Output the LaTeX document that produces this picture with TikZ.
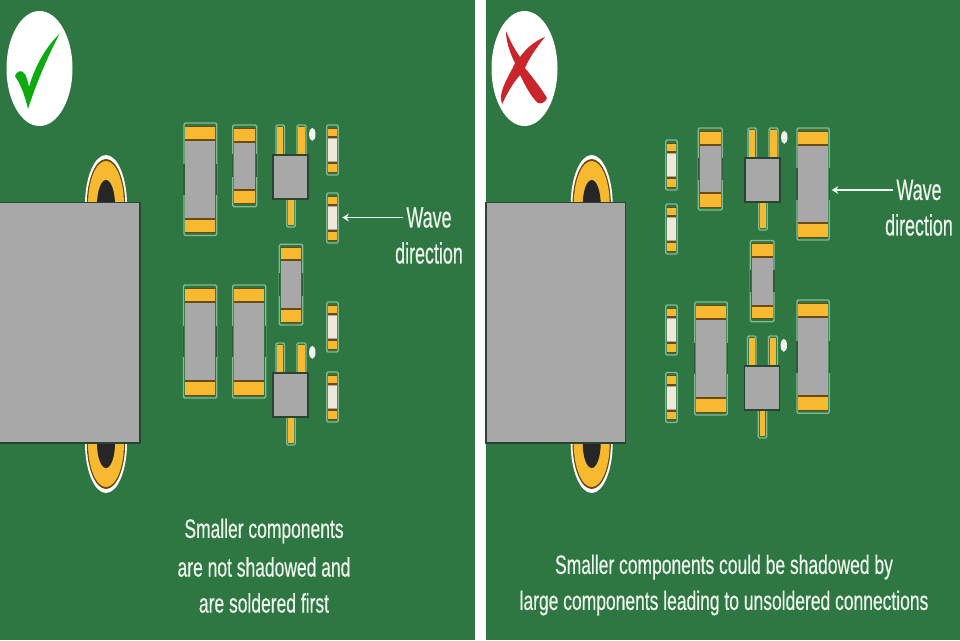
\documentclass[tikz,border=0pt]{standalone}
\usepackage{fontspec}
\setmainfont{Liberation Sans}
\newfontfamily\labelfont[FakeBold=0.6]{Liberation Sans}
\usetikzlibrary{arrows.meta}
\definecolor{board}{HTML}{2E7743}
\definecolor{halo}{HTML}{86BA94}
\definecolor{gold}{HTML}{F6B92F}
\definecolor{brownline}{HTML}{6B4A14}
\definecolor{metal}{HTML}{A9A8A9}
\definecolor{cream}{HTML}{EFE9DC}
\definecolor{darkedge}{HTML}{2A4434}
\definecolor{sidedark}{HTML}{2F5A3E}
\definecolor{labelwhite}{HTML}{EDF5EC}
\definecolor{crossred}{HTML}{C9252B}
\definecolor{tickgreen}{HTML}{0DAA12}
\tikzset{
	haloline/.style = {draw = halo, line width = 1pt, fill = board, rounded corners = 1},
	padfill/.style = {fill = gold},
	padline/.style = {draw = brownline, line width = 1.5pt},
	padthin/.style = {draw = brownline, line width = 0.6pt},
	sideline/.style = {draw = sidedark, line width = 1pt},
	sotbody/.style = {fill = metal, draw = darkedge, line width = 1pt},
	smalltext/.style = {text = labelwhite, font = \labelfont\fontsize{20pt}{20pt}\selectfont, xscale = 0.655, transform shape, inner sep = 0pt},
	wavetext/.style = {smalltext, xscale = 0.61/0.655, font = \labelfont\fontsize{22pt}{22pt}\selectfont},
	wavearrow/.style = {draw = labelwhite, line width = 0.9pt, -{Stealth[length = 5pt, width = 6pt]}}
}
% chip: x1, y1, x2, y2, pad height
\newcommand{\chipbig}[5]{
	\path[haloline] (#1,#2) rectangle (#3,#4);
	\fill[metal] (#1+1.4,#2+3) rectangle (#3-1.4,#4-3);
	\fill[padfill] (#1+1.4,#2+3) rectangle (#3-1.4,#2+3+#5);
	\fill[padfill] (#3-1.4,#4-3) rectangle (#1+1.4,#4-3-#5);
	\draw[padline] (#1+1.4,#2+3+#5) -- (#3-1.4,#2+3+#5);
	\draw[padline] (#1+1.4,#4-3-#5) -- (#3-1.4,#4-3-#5);
	\draw[padthin] (#1+1.4,#2+3) -- (#3-1.4,#2+3);
	\draw[padthin] (#1+1.4,#4-3) -- (#3-1.4,#4-3);
	\draw[sideline] (#1,{#2+0.36*(#4-#2)}) -- (#1,{#2+0.64*(#4-#2)});
	\draw[sideline] (#3,{#2+0.36*(#4-#2)}) -- (#3,{#2+0.64*(#4-#2)});
}
% small chip: x1, y1
\newcommand{\chipsmall}[2]{
	\path[haloline] (#1,#2) rectangle (#1+11.6,#2+50);
	\fill[cream] (#1+1.4,#2+12) rectangle (#1+10.2,#2+38);
	\fill[padfill] (#1+1.4,#2+3) rectangle (#1+10.2,#2+12);
	\fill[padfill] (#1+1.4,#2+38) rectangle (#1+10.2,#2+47);
	\fill[metal] (#1+1.4,#2+12) rectangle (#1+10.2,#2+14);
	\fill[metal] (#1+1.4,#2+36) rectangle (#1+10.2,#2+38);
	\draw[padline] (#1+1.4,#2+12) -- (#1+10.2,#2+12);
	\draw[padline] (#1+1.4,#2+38) -- (#1+10.2,#2+38);
	\draw[padthin] (#1+1.4,#2+3) -- (#1+10.2,#2+3);
	\draw[padthin] (#1+1.4,#2+47) -- (#1+10.2,#2+47);
}
\newcommand{\leadpin}[4]{
	\path[haloline] (#1,#2) rectangle (#3,#4);
	\fill[padfill] (#1+1.4,#2+2) rectangle (#3-1.4,#4-2);
}
% transistor: left, top
\newcommand{\sot}[2]{
	\leadpin{#1+3}{#2-30}{#1+11.5}{#2+1}
	\leadpin{#1+24}{#2-30}{#1+33}{#2+1}
	\leadpin{#1+13.7}{#2+43}{#1+22.3}{#2+72}
	\fill[labelwhite] (#1+39.3,#2-20.7) ellipse [x radius = 3.2, y radius = 6.5];
	\path[sotbody] (#1,#2) rectangle (#1+35,#2+44);
}
% through hole: centre x, centre y
\newcommand{\ear}[2]{
	\fill[white] (#1,#2) ellipse [x radius = 21, y radius = 50];
	\fill[brownline] (#1,#2) ellipse [x radius = 19.2, y radius = 46];
	\fill[gold] (#1,#2) ellipse [x radius = 18, y radius = 44];
	\fill[black!85] (#1,#2) ellipse [x radius = 9, y radius = 25];
}
\begin{document}
\begin{tikzpicture}[x=0.75pt,y=-0.75pt]
	\useasboundingbox (0,0) rectangle (960,640);
	\fill[white] (0,0) rectangle (960,640);
	\fill[board] (0,0) rectangle (475,640);
	\fill[board] (486,0) rectangle (960,640);

	% left panel
	\fill[white] (39.5,68.5) ellipse [x radius = 33, y radius = 57.5];
	\fill[tickgreen] (15,76) .. controls (17,71) and (21,69) .. (25,74) .. controls (27,78) and (28,82) .. (29,87) .. controls (33,72) and (44,48) .. (59.5,34) .. controls (47,58) and (36,84) .. (28,109) .. controls (25,96) and (21,85) .. (15,76) -- cycle;
	\ear{106}{205}
	\ear{106}{443}
	\path[fill = metal, draw = darkedge, line width = 0.9pt] (-2,202.5) rectangle (140,443);

	\chipbig{184}{123}{216.7}{235.5}{14}
	\chipbig{232.7}{125}{256.7}{206.7}{14}
	\chipbig{279.3}{244.3}{302.7}{325}{13}
	\chipbig{183.5}{285}{216.7}{398}{14}
	\chipbig{232.7}{285}{265.7}{398}{14}
	\chipsmall{326.7}{125}
	\chipsmall{326.7}{193}
	\chipsmall{326.7}{302}
	\chipsmall{326.7}{372}
	\sot{273}{155}
	\sot{273}{373}

	\node (WaveL) at (429,217.5) [wavetext] {Wave};
	\node (DirL) at (429,253) [wavetext] {direction};
	\coordinate (TipL) at (342.3,217.5);
	\draw[wavearrow] (WaveL.west) ++(-3,0) -- (TipL);

	\node (CapLa) at (264,531) [smalltext] {Smaller components};
	\node (CapLb) at (264,567) [smalltext] {are not shadowed and};
	\node (CapLc) at (264,603) [smalltext] {are soldered first};

	% right panel
	\fill[white] (524.5,68.5) ellipse [x radius = 33, y radius = 57.5];
	\fill[crossred] (506,31) .. controls (510,41) and (515,50) .. (520,57) .. controls (527,47) and (537,40) .. (545,37) .. controls (540,43) and (530,56) .. (525,68) .. controls (533,78) and (541,88) .. (547,98) .. controls (545,103) and (541,104) .. (538,103) .. controls (531,97) and (525,85) .. (520,75) .. controls (512,84) and (507,94) .. (502,104) .. controls (500,98) and (501,92) .. (505,83) .. controls (508,76) and (512,70) .. (515,63) .. controls (510,53) and (506,42) .. (506,31) -- cycle;
	\ear{591.7}{205}
	\ear{591.7}{443}
	\path[fill = metal, draw = darkedge, line width = 0.9pt] (486,202.5) rectangle (625.7,443);

	\chipbig{698.3}{128}{722.3}{210}{14}
	\chipbig{797}{128}{829.3}{240}{14}
	\chipbig{750.3}{240.5}{774}{321.7}{13}
	\chipbig{694.7}{302}{727.3}{415}{14}
	\chipbig{797}{300}{829.3}{413.3}{14}
	\chipsmall{665.7}{140}
	\chipsmall{665.7}{204}
	\chipsmall{665.7}{305}
	\chipsmall{665.7}{372.5}
	\sot{745}{158}
	\sot{744.5}{366}

	\node (WaveR) at (919,190) [wavetext] {Wave};
	\node (DirR) at (919,225) [wavetext] {direction};
	\coordinate (TipR) at (831.7,190);
	\draw[wavearrow] (WaveR.west) ++(-3,0) -- (TipR);

	\node (CapRa) at (724,567) [smalltext] {Smaller components could be shadowed by};
	\node (CapRb) at (724,603) [smalltext] {large components leading to unsoldered connections};
\end{tikzpicture}
\end{document}
